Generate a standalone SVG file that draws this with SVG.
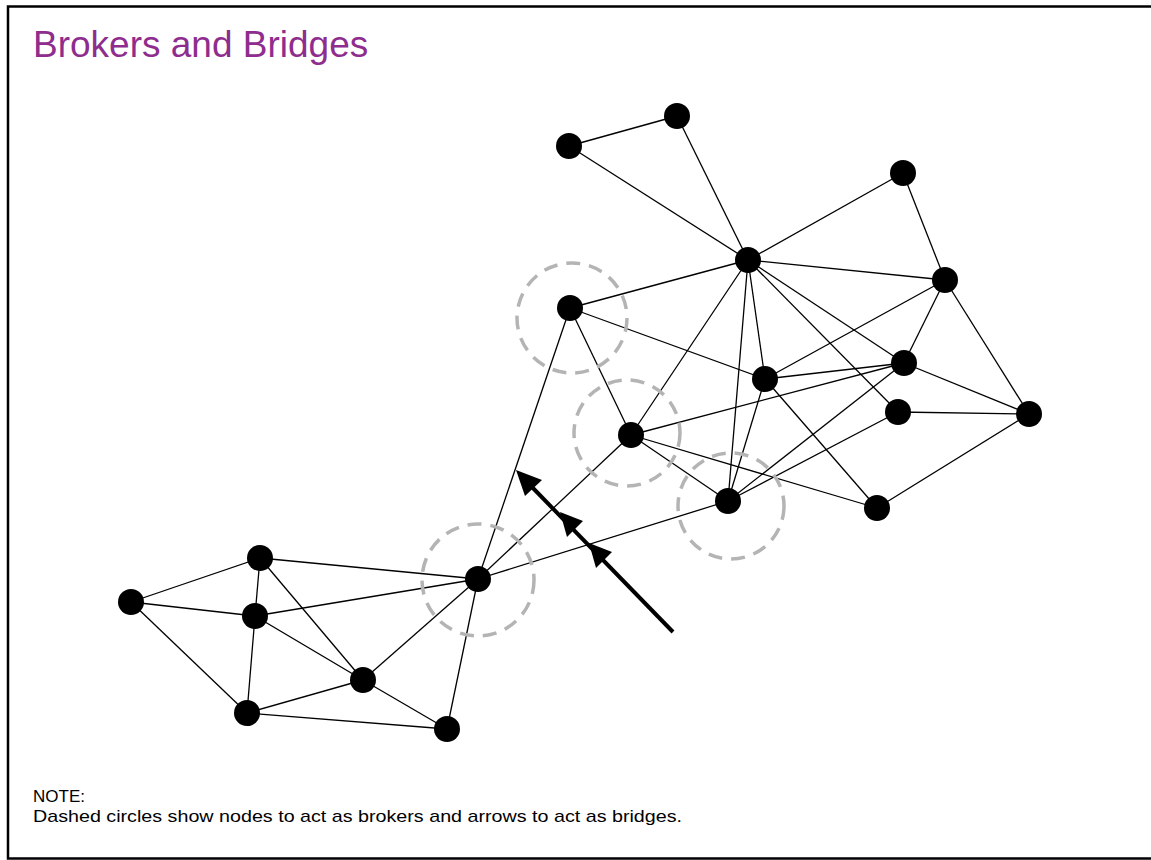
<svg xmlns="http://www.w3.org/2000/svg" width="1151" height="860" viewBox="0 0 1151 860">
  <style>
    .frame { fill: #ffffff; stroke: #000000; stroke-width: 2.5; }
    .title { font-family: "Liberation Sans", Arial, sans-serif; font-size: 37px; fill: #8e2d8e; }
    .note { font-family: "Liberation Sans", Arial, sans-serif; font-size: 17px; fill: #000000; }
    .edge { stroke: #000000; stroke-width: 1.3; fill: none; }
    .node { fill: #000000; }
    .broker { fill: none; stroke: #b4b4b4; stroke-width: 3.5; stroke-dasharray: 14 9; }
    .bridge { stroke: #000000; stroke-width: 4; fill: none; }
    .head { fill: #000000; }
  </style>

  <rect class="frame" x="8" y="6.5" width="1160" height="852"/>
  <text class="title" x="33" y="57">Brokers and Bridges</text>

  <!-- links between nodes -->
  <g id="connectors">
    <!-- upper cluster -->
    <line class="edge" x1="569" y1="146" x2="677" y2="116"/>
    <line class="edge" x1="677" y1="116" x2="748" y2="260"/>
    <line class="edge" x1="569" y1="146" x2="748" y2="260"/>
    <line class="edge" x1="903" y1="173" x2="748" y2="260"/>
    <line class="edge" x1="903" y1="173" x2="945" y2="280"/>
    <line class="edge" x1="748" y1="260" x2="945" y2="280"/>
    <line class="edge" x1="748" y1="260" x2="570" y2="308"/>
    <line class="edge" x1="748" y1="260" x2="631" y2="435"/>
    <line class="edge" x1="748" y1="260" x2="728" y2="501"/>
    <line class="edge" x1="748" y1="260" x2="765" y2="379"/>
    <line class="edge" x1="748" y1="260" x2="904" y2="363"/>
    <line class="edge" x1="748" y1="260" x2="898" y2="412"/>
    <line class="edge" x1="570" y1="308" x2="765" y2="379"/>
    <line class="edge" x1="570" y1="308" x2="631" y2="435"/>
    <line class="edge" x1="570" y1="308" x2="478" y2="579"/>
    <line class="edge" x1="631" y1="435" x2="904" y2="363"/>
    <line class="edge" x1="631" y1="435" x2="877" y2="508"/>
    <line class="edge" x1="631" y1="435" x2="728" y2="501"/>
    <line class="edge" x1="631" y1="435" x2="478" y2="579"/>
    <line class="edge" x1="728" y1="501" x2="765" y2="379"/>
    <line class="edge" x1="728" y1="501" x2="904" y2="363"/>
    <line class="edge" x1="728" y1="501" x2="898" y2="412"/>
    <line class="edge" x1="728" y1="501" x2="478" y2="579"/>
    <line class="edge" x1="765" y1="379" x2="945" y2="280"/>
    <line class="edge" x1="765" y1="379" x2="904" y2="363"/>
    <line class="edge" x1="765" y1="379" x2="877" y2="508"/>
    <line class="edge" x1="904" y1="363" x2="945" y2="280"/>
    <line class="edge" x1="904" y1="363" x2="1029" y2="414"/>
    <line class="edge" x1="898" y1="412" x2="1029" y2="414"/>
    <line class="edge" x1="945" y1="280" x2="1029" y2="414"/>
    <line class="edge" x1="877" y1="508" x2="1029" y2="414"/>
    <!-- lower cluster -->
    <line class="edge" x1="478" y1="579" x2="260" y2="558"/>
    <line class="edge" x1="478" y1="579" x2="255" y2="616"/>
    <line class="edge" x1="478" y1="579" x2="363" y2="680"/>
    <line class="edge" x1="478" y1="579" x2="447" y2="729"/>
    <line class="edge" x1="260" y1="558" x2="131" y2="602"/>
    <line class="edge" x1="260" y1="558" x2="255" y2="616"/>
    <line class="edge" x1="260" y1="558" x2="363" y2="680"/>
    <line class="edge" x1="131" y1="602" x2="255" y2="616"/>
    <line class="edge" x1="131" y1="602" x2="247" y2="713"/>
    <line class="edge" x1="255" y1="616" x2="363" y2="680"/>
    <line class="edge" x1="255" y1="616" x2="247" y2="713"/>
    <line class="edge" x1="363" y1="680" x2="247" y2="713"/>
    <line class="edge" x1="363" y1="680" x2="447" y2="729"/>
    <line class="edge" x1="247" y1="713" x2="447" y2="729"/>
  </g>

  <!-- nodes -->
  <g id="n-a"><circle class="node" cx="677" cy="116" r="13"/></g>
  <g id="n-b"><circle class="node" cx="569" cy="146" r="13"/></g>
  <g id="n-c"><circle class="node" cx="903" cy="173" r="13"/></g>
  <g id="n-hub"><circle class="node" cx="748" cy="260" r="13"/></g>
  <g id="n-d"><circle class="node" cx="945" cy="280" r="13"/></g>
  <g id="n-e"><circle class="node" cx="570" cy="308" r="13"/><circle class="broker" cx="572" cy="318" r="55"/></g>
  <g id="n-f"><circle class="node" cx="765" cy="379" r="13"/></g>
  <g id="n-g"><circle class="node" cx="904" cy="363" r="13"/></g>
  <g id="n-i"><circle class="node" cx="898" cy="412" r="13"/></g>
  <g id="n-j"><circle class="node" cx="1029" cy="414" r="13"/></g>
  <g id="n-k"><circle class="node" cx="631" cy="435" r="13"/><circle class="broker" cx="627" cy="433" r="53"/></g>
  <g id="n-l"><circle class="node" cx="728" cy="501" r="13"/><circle class="broker" cx="731" cy="506" r="53"/></g>
  <g id="n-m"><circle class="node" cx="877" cy="508" r="13"/></g>
  <g id="n-n"><circle class="node" cx="478" cy="579" r="13"/><circle class="broker" cx="478" cy="580" r="56"/></g>
  <g id="n-o"><circle class="node" cx="260" cy="558" r="13"/></g>
  <g id="n-p"><circle class="node" cx="131" cy="602" r="13"/></g>
  <g id="n-q"><circle class="node" cx="255" cy="616" r="13"/></g>
  <g id="n-r"><circle class="node" cx="363" cy="680" r="13"/></g>
  <g id="n-s"><circle class="node" cx="247" cy="713" r="13"/></g>
  <g id="n-t"><circle class="node" cx="447" cy="729" r="13"/></g>

  <!-- bridge arrows -->
  <g id="bridges">
    <line class="bridge" x1="673" y1="632" x2="530" y2="485"/>
    <polygon class="head" points="516,470 542,480 525,496"/>
    <polygon class="head" points="560,512 583,521 567,537"/>
    <polygon class="head" points="589,543 612,552 596,568"/>
  </g>

  <text class="note" x="33" y="802">NOTE:</text>
  <text class="note" x="33" y="822" textLength="649" lengthAdjust="spacingAndGlyphs">Dashed circles show nodes to act as brokers and arrows to act as bridges.</text>
</svg>
